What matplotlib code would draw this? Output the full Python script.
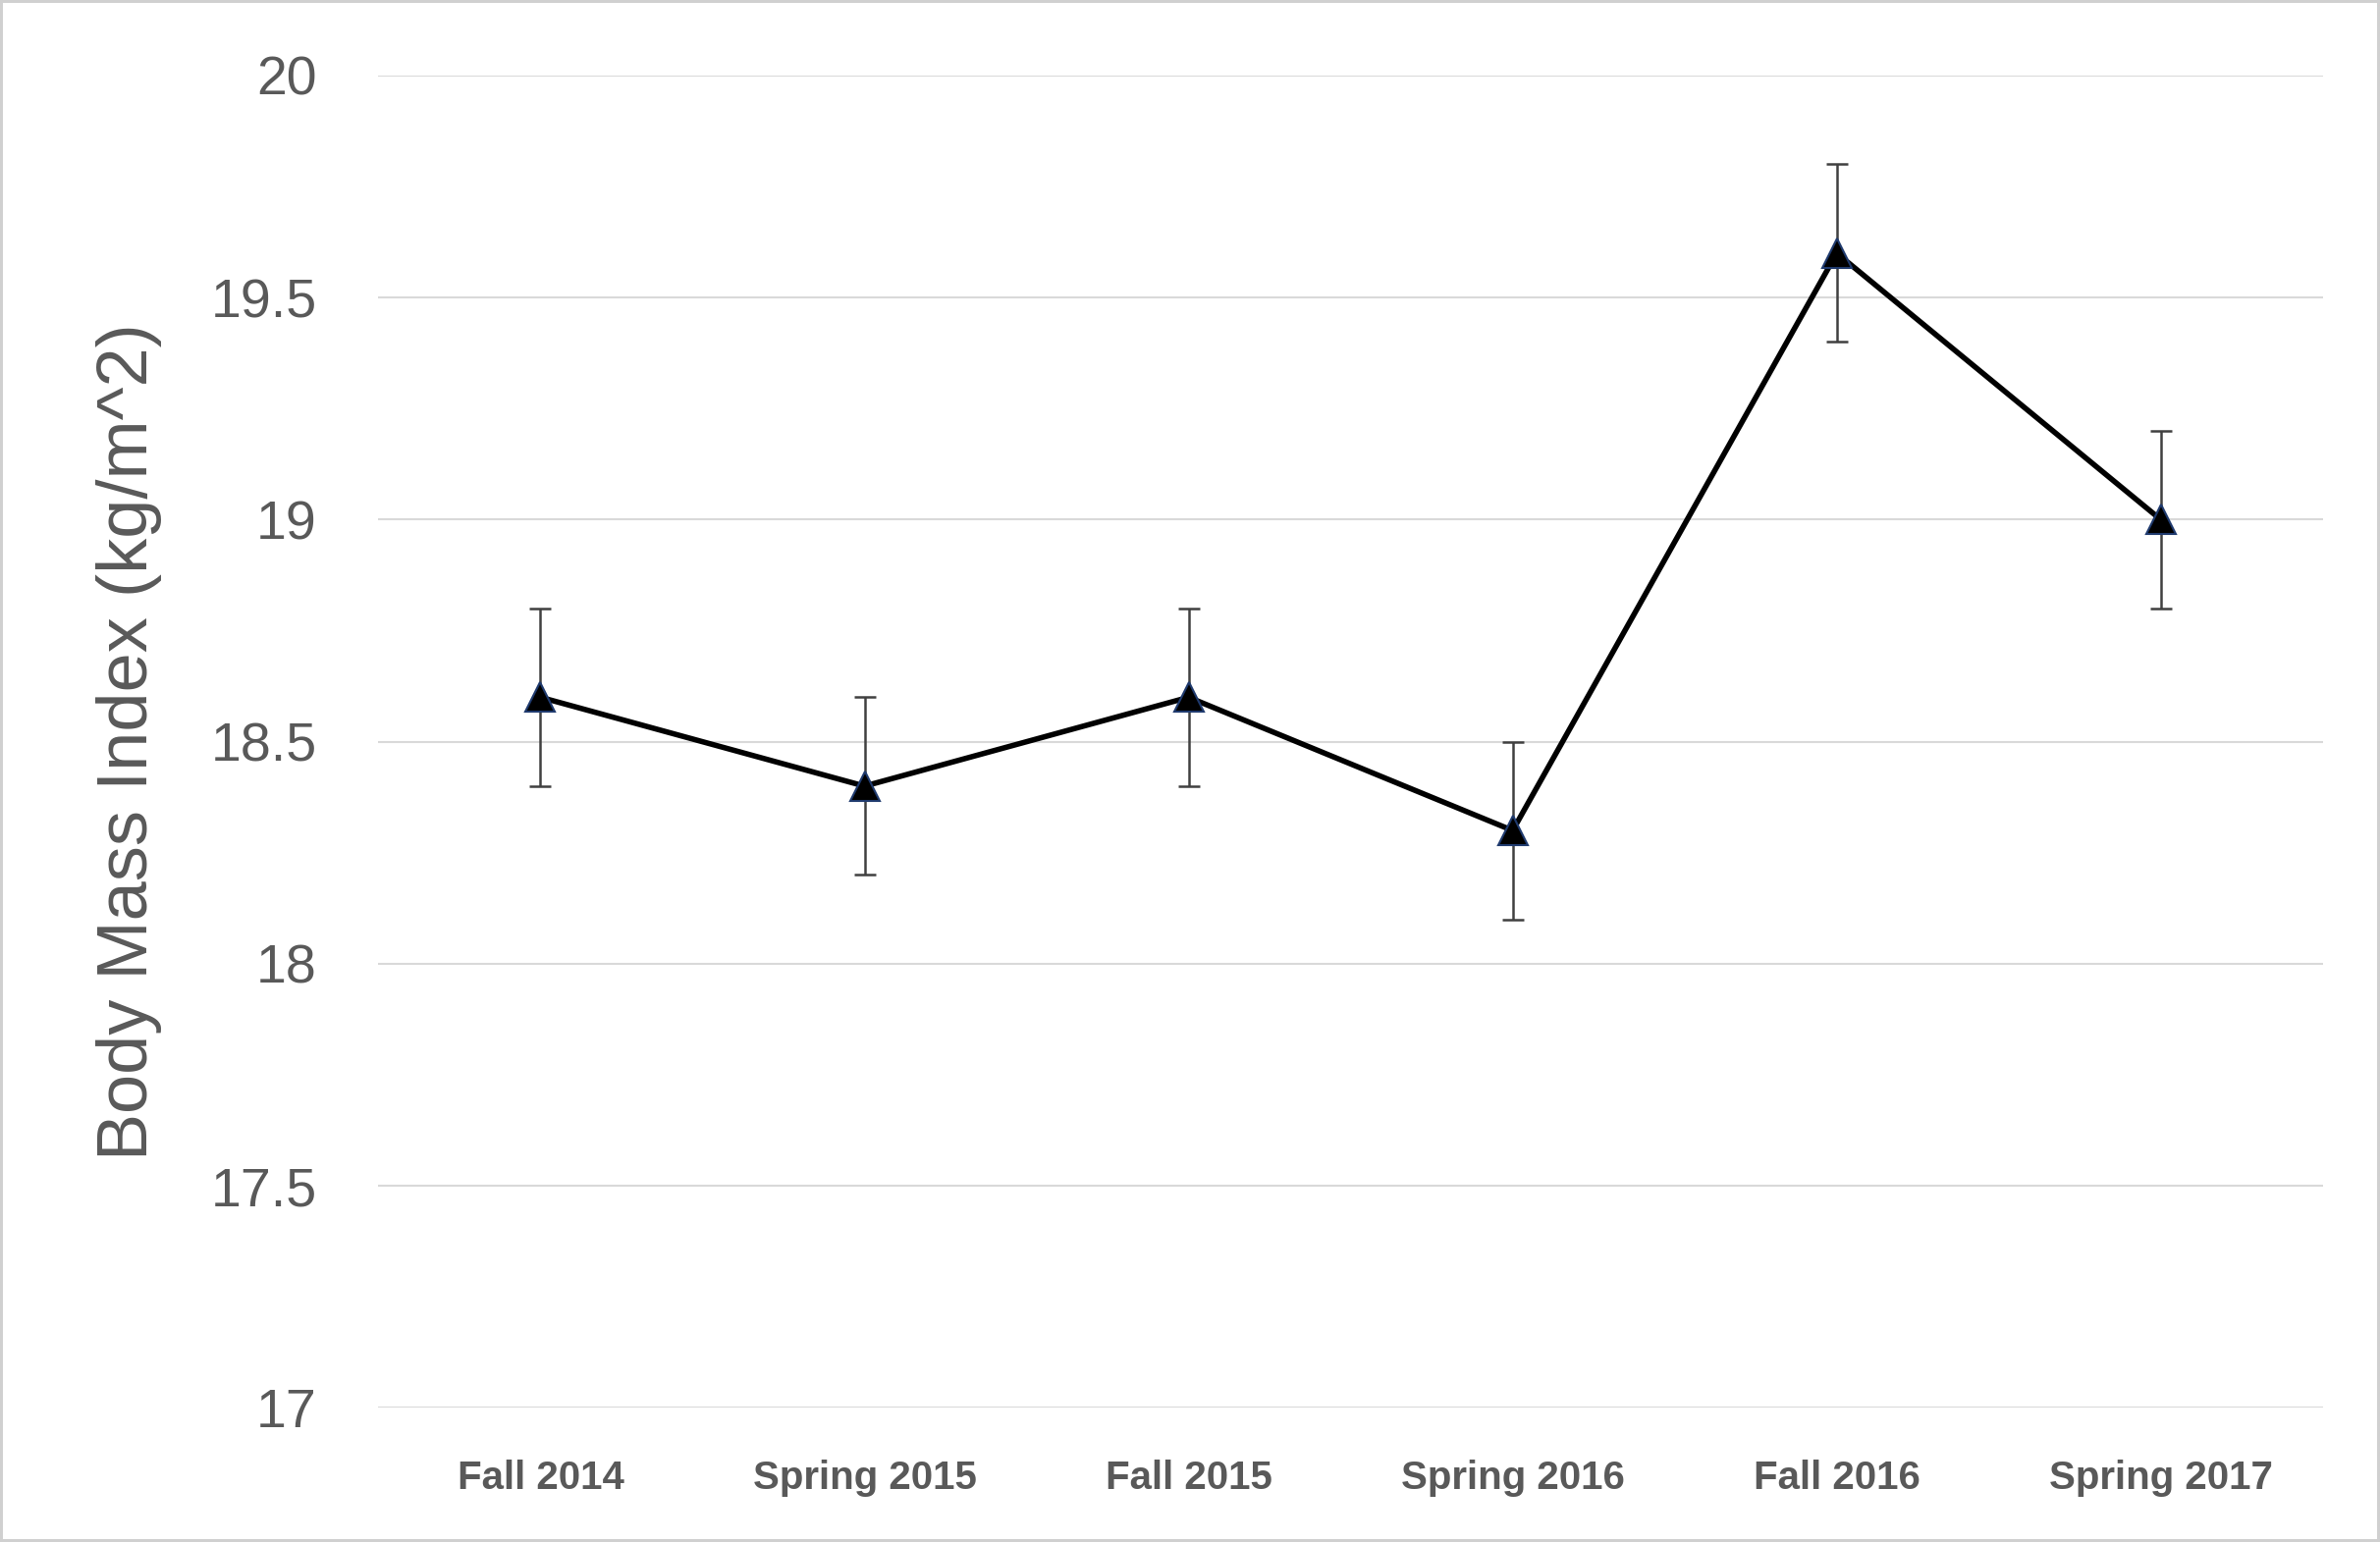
import matplotlib
matplotlib.use("Agg")
import matplotlib.pyplot as plt

plt.rcParams["font.family"] = ["Liberation Sans", "DejaVu Sans"]

semesters = ["Fall 2014", "Spring 2015", "Fall 2015", "Spring 2016", "Fall 2016", "Spring 2017"]
bmi = [18.6, 18.4, 18.6, 18.3, 19.6, 19.0]
bmi_err = [0.2, 0.2, 0.2, 0.2, 0.2, 0.2]
y_ticks = [17, 17.5, 18, 18.5, 19, 19.5, 20]

fig = plt.figure(figsize=(24.24, 15.71), dpi=100)
fig.patch.set_edgecolor("#d0d0d0")
fig.patch.set_linewidth(3)
ax = fig.add_axes([0.159, 0.087, 0.817, 0.864])

x = list(range(len(semesters)))
ax.errorbar(x, bmi, yerr=bmi_err, fmt="none", ecolor="#404040",
            elinewidth=1.8, capsize=8, capthick=1.8, zorder=2)
ax.plot(x, bmi, color="black", linewidth=4, marker="^", markersize=22,
        markerfacecolor="black", markeredgecolor="#1f3a6e", markeredgewidth=1.5, zorder=3)

ax.set_xlim(-0.5, len(semesters) - 0.5)
ax.set_ylim(17, 20)
ax.set_yticks(y_ticks)
ax.set_yticklabels([f"{v:g}" for v in y_ticks])
ax.set_xticks(x)
ax.set_xticklabels(semesters, fontweight="bold")
ax.grid(axis="y", color="#d9d9d9", linewidth=1.5)
ax.set_axisbelow(True)
for s in ax.spines.values():
    s.set_visible(False)
ax.tick_params(axis="y", length=0, labelsize=40, labelcolor="#595959", pad=45)
ax.tick_params(axis="x", length=0, labelsize=29, labelcolor="#595959", pad=38)
ax.set_ylabel("Body Mass Index (kg/m^2)", fontsize=52, color="#595959", labelpad=36)

fig.savefig("out.png", dpi=100)
